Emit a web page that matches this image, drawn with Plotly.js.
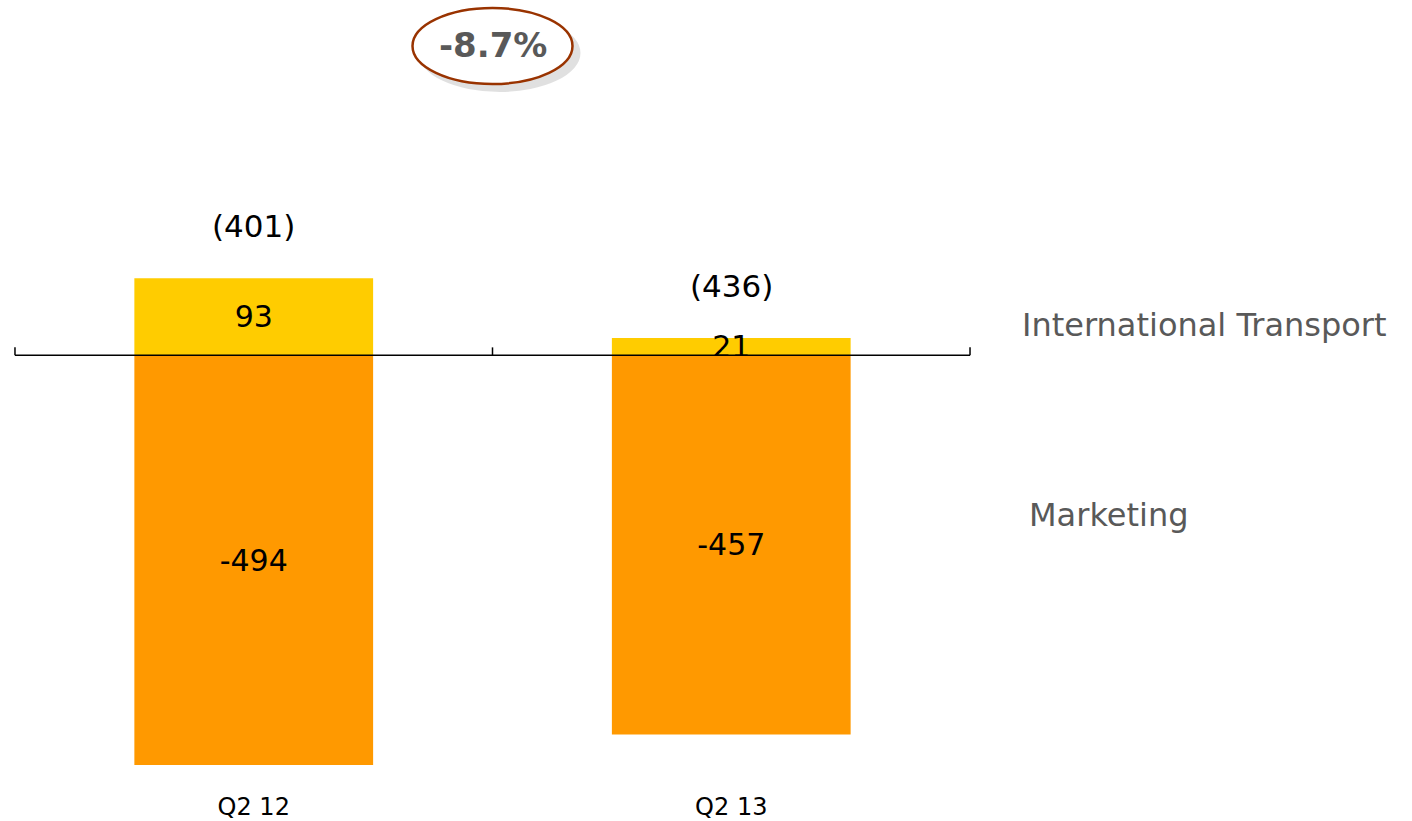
<!DOCTYPE html>
<html>
<head>
<meta charset="utf-8">
<script src="https://cdn.plot.ly/plotly-3.0.1.min.js"></script>
<style>
  html, body { margin: 0; padding: 0; background: #ffffff; }
  #chart { width: 1412px; height: 821px; }
</style>
</head>
<body>
<div id="chart"></div>
<script>
// ---- data ----
const categories = ['Q2 12', 'Q2 13'];
const internationalTransport = [93, 21];
const marketing = [-494, -457];
const seriesNames = ['International Transport', 'Marketing'];
const changeLabel = '-8.7%';

// totals derived from the series
const totals = categories.map((c, i) => internationalTransport[i] + marketing[i]);

const FONT = 'DejaVu Sans, Verdana, sans-serif';
const catIdx = categories.map((c, i) => i);

const traceIT = {
  type: 'bar',
  x: catIdx,
  y: internationalTransport,
  width: 0.5,
  marker: { color: '#FFCC00', line: { width: 0 } },
  text: internationalTransport.map(String),
  textposition: 'inside',
  insidetextanchor: 'middle',
  textangle: 0,
  constraintext: 'none',
  cliponaxis: false,
  textfont: { family: FONT, size: 30, color: '#000000' },
  hoverinfo: 'skip',
  name: seriesNames[0]
};
const traceMk = {
  type: 'bar',
  x: catIdx,
  y: marketing,
  width: 0.5,
  marker: { color: '#FF9900', line: { width: 0 } },
  text: marketing.map(String),
  textposition: 'inside',
  insidetextanchor: 'middle',
  textangle: 0,
  constraintext: 'none',
  textfont: { family: FONT, size: 30, color: '#000000' },
  hoverinfo: 'skip',
  name: seriesNames[1]
};

const annotations = [];
// totals above each bar
catIdx.forEach(i => {
  annotations.push({
    x: i, y: Math.max(0, internationalTransport[i]), xref: 'x', yref: 'y',
    text: '(' + Math.abs(totals[i]) + ')',
    showarrow: false, yanchor: 'bottom', yshift: 32,
    font: { family: FONT, size: 31, color: '#000000' }
  });
});
// series labels on the right
annotations.push({
  x: 1.5, y: 0, xref: 'x', yref: 'y', text: seriesNames[0],
  showarrow: false, xanchor: 'left', yanchor: 'middle', xshift: 50, yshift: 30,
  font: { family: FONT, size: 32, color: '#595959' }
});
annotations.push({
  x: 1.5, y: 0, xref: 'x', yref: 'y', text: seriesNames[1],
  showarrow: false, xanchor: 'left', yanchor: 'middle', xshift: 57, yshift: -160,
  font: { family: FONT, size: 32, color: '#595959' }
});
// change bubble text
annotations.push({
  x: 0.5, y: 1, xref: 'x', yref: 'paper', text: '<b>' + changeLabel + '</b>',
  showarrow: false, xanchor: 'center', yanchor: 'middle', yshift: 53,
  font: { family: FONT, size: 34, color: '#595959' }
});

const shapes = [
  // shadow of bubble
  { type: 'circle', xref: 'x', yref: 'paper', xsizemode: 'pixel', ysizemode: 'pixel',
    xanchor: 0.5, yanchor: 1, x0: -74, x1: 88, y0: 6, y1: 84,
    fillcolor: 'rgba(0,0,0,0.12)', line: { width: 0 }, layer: 'above' },
  // bubble
  { type: 'circle', xref: 'x', yref: 'paper', xsizemode: 'pixel', ysizemode: 'pixel',
    xanchor: 0.5, yanchor: 1, x0: -80, x1: 80, y0: 14, y1: 90,
    fillcolor: '#ffffff', line: { color: '#993300', width: 2.5 }, layer: 'above' },
  // category axis at zero
  { type: 'line', xref: 'x', yref: 'y', x0: -0.5, x1: 1.5, y0: 0, y1: 0,
    line: { color: '#000000', width: 1.5 }, layer: 'above' }
];
[-0.5, 0.5, 1.5].forEach(b => {
  shapes.push({ type: 'line', xref: 'x', yref: 'y', ysizemode: 'pixel', yanchor: 0,
    x0: b, x1: b, y0: 0, y1: 8, line: { color: '#000000', width: 1.5 }, layer: 'above' });
});

const layout = {
  width: 1412, height: 821,
  margin: { l: 5, r: 432, t: 98, b: 31 },
  paper_bgcolor: '#ffffff', plot_bgcolor: '#ffffff',
  barmode: 'relative',
  showlegend: false,
  hovermode: false,
  xaxis: {
    range: [-0.5209, 1.5209],
    tickmode: 'array', tickvals: catIdx, ticktext: categories,
    showgrid: false, zeroline: false, showline: false, ticks: '',
    tickfont: { family: FONT, size: 24, color: '#000000' },
    fixedrange: true
  },
  yaxis: {
    range: [-524, 310.3],
    visible: false, showgrid: false, zeroline: false, fixedrange: true
  },
  annotations: annotations,
  shapes: shapes
};

Plotly.newPlot('chart', [traceIT, traceMk], layout, { displayModeBar: false, staticPlot: true });
</script>
</body>
</html>
